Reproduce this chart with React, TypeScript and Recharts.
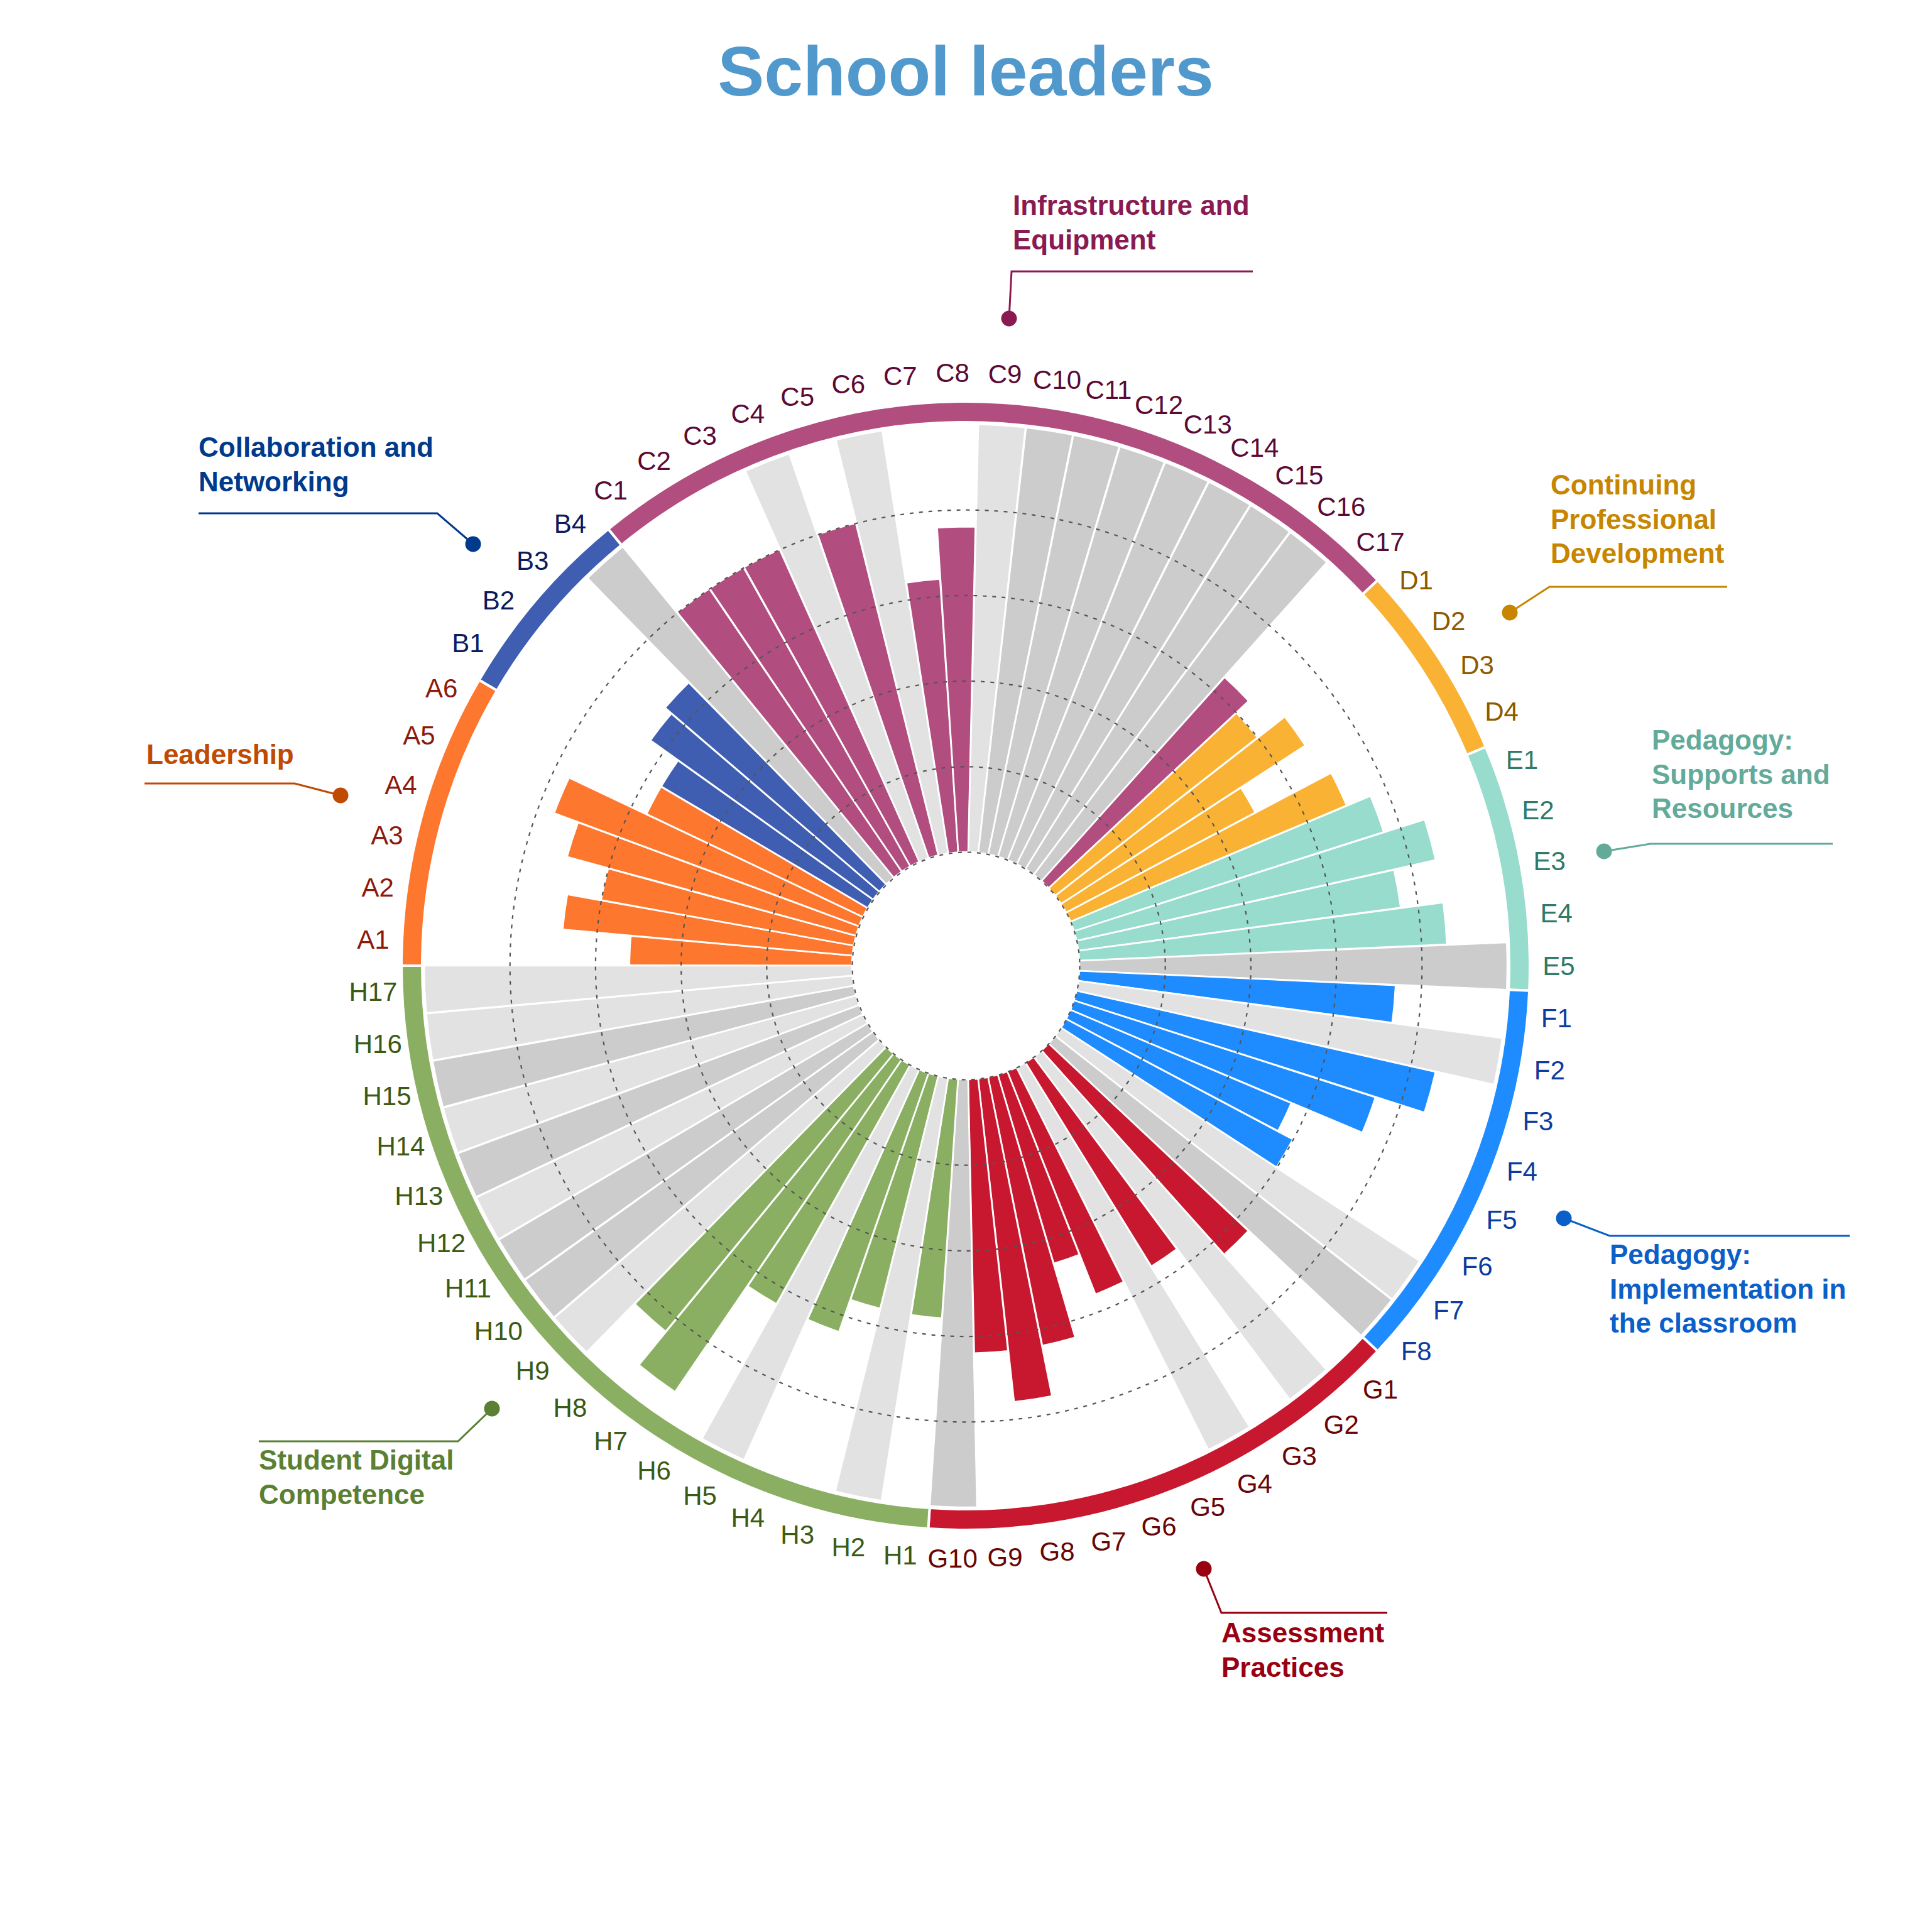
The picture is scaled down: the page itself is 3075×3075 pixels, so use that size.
import React from "react";
import {
  Cell,
  Pie,
  PieChart,
  PolarAngleAxis,
  PolarGrid,
  PolarRadiusAxis,
  RadialBar,
  RadialBarChart,
} from "recharts";

const SIZE = 3075;
const CX = 1537;
const CY = 1537;
const INNER = 181;
const OUTER = 862;
const LABEL_R = 944;
const FONT = "'Liberation Sans', Arial, sans-serif";

// school leaders, % per item (null = item not covered)
const leadership = [52, 68, 60, 70, 76, 56];
const collaboration = [56, 64, 66, null];
const infrastructure = [80, 80, 80, null, 80, null, 64, 76, null, null, null, null, null, null, null, null, 64];
const cpd = [60, 68, 50, 70];
const supports = [76, 86, 76, 86, null];
const implementation = [74, null, 86, 74, 56, 60, null, null];
const assessment = [64, null, 56, null, 56, 46, 64, 76, 64, null];
const studentDigital = [56, null, 56, 64, null, 64, 94, 84, null, null, null, null, null, null, null, null, null];

// items that are not covered, by kind
const lightGaps = ["C4", "C6", "C9", "F2", "F7", "G2", "G4", "H2", "H5", "H9", "H12", "H14", "H16", "H17"];
const darkGaps = ["B4", "C10", "C11", "C12", "C13", "C14", "C15", "C16", "E5", "F8", "G10", "H10", "H11", "H13", "H15"];

const groupKeys = ["A", "B", "C", "D", "E", "F", "G", "H"];
const groupValues = [leadership, collaboration, infrastructure, cpd, supports, implementation, assessment, studentDigital];

const barColors: Record<string, string> = {
  A: "#fd772e",
  B: "#405eb1",
  C: "#b24d7f",
  D: "#f9b233",
  E: "#97dccd",
  F: "#1e8bff",
  G: "#c8182f",
  H: "#8aaf62",
};
const tickColors: Record<string, string> = {
  A: "#8c1a0b",
  B: "#0c1b5a",
  C: "#5b0a33",
  D: "#8e5a00",
  E: "#2f7a69",
  F: "#0b3c9e",
  G: "#6a0505",
  H: "#3b5a14",
};

const rows = groupKeys.flatMap((key, gi) =>
  groupValues[gi].map((v, i) => {
    const name = key + (i + 1);
    return { name, group: key, value: v ?? 100 };
  })
);

const ring = groupKeys.map((key, gi) => ({ key, count: groupValues[gi].length }));

// recharts draws each radial bar one slot past its tick, so turn the chart back
const slot = 360 / rows.length;

const gridTicks = [0, 20, 40, 60, 80];
const gridRadii = gridTicks.map((t) => INNER + ((OUTER - INNER) * t) / 100);

function barFill(name: string, group: string) {
  if (lightGaps.includes(name)) return "#e2e2e2";
  if (darkGaps.includes(name)) return "#cccccc";
  return barColors[group];
}

function AngleTick(props: any) {
  const { payload, index } = props;
  const row = rows[index];
  // tick sits on the slot edge: move it to the middle of the bar
  const a = ((payload.coordinate + slot / 2) * Math.PI) / 180;
  const x = CX + LABEL_R * Math.cos(a);
  const y = CY - LABEL_R * Math.sin(a);
  return (
    <text
      x={x}
      y={y}
      textAnchor="middle"
      dominantBaseline="central"
      fill={row ? tickColors[row.group] : "#333"}
      fontSize={42}
      fontFamily={FONT}
    >
      {payload.value}
    </text>
  );
}

type Note = {
  lines: string[];
  color: string;
  tx: number;
  baseline: number;
  path: string;
  dot: [number, number];
};

const notes: Note[] = [
  {
    lines: ["Infrastructure and", "Equipment"],
    color: "#8a1a52",
    tx: 1612,
    baseline: 342,
    path: "M1606,507 L1610,432 L1994,432",
    dot: [1606, 507],
  },
  {
    lines: ["Collaboration and", "Networking"],
    color: "#003a8c",
    tx: 316,
    baseline: 727,
    path: "M316,817 L696,817 L753,866",
    dot: [753, 866],
  },
  {
    lines: ["Leadership"],
    color: "#c04a00",
    tx: 233,
    baseline: 1216,
    path: "M230,1247 L469,1247 L542,1266",
    dot: [542, 1266],
  },
  {
    lines: ["Continuing", "Professional", "Development"],
    color: "#c78500",
    tx: 2468,
    baseline: 787,
    path: "M2749,934 L2466,934 L2403,975",
    dot: [2403, 975],
  },
  {
    lines: ["Pedagogy:", "Supports and", "Resources"],
    color: "#62aa9a",
    tx: 2629,
    baseline: 1193,
    path: "M2917,1343 L2627,1343 L2553,1355",
    dot: [2553, 1355],
  },
  {
    lines: ["Pedagogy:", "Implementation in", "the classroom"],
    color: "#0b5fc8",
    tx: 2562,
    baseline: 2012,
    path: "M2489,1939 L2562,1967 L2944,1967",
    dot: [2489, 1939],
  },
  {
    lines: ["Student Digital", "Competence"],
    color: "#5b8034",
    tx: 412,
    baseline: 2339,
    path: "M412,2294 L729,2294 L783,2242",
    dot: [783, 2242],
  },
  {
    lines: ["Assessment", "Practices"],
    color: "#990011",
    tx: 1944,
    baseline: 2614,
    path: "M1916,2497 L1944,2567 L2208,2567",
    dot: [1916, 2497],
  },
];

export default function App() {
  return (
    <div style={{ position: "absolute", left: 0, top: 0, width: SIZE, height: SIZE, background: "#fff" }}>
      <div style={{ position: "absolute", left: 0, top: 0 }}>
        <RadialBarChart
          width={SIZE}
          height={SIZE}
          cx={CX}
          cy={CY}
          innerRadius={INNER}
          outerRadius={OUTER}
          startAngle={180 - slot}
          endAngle={-180 - slot}
          layout="centric"
          data={rows}
          barCategoryGap={0}
          margin={{ top: 0, right: 0, bottom: 0, left: 0 }}
        >
          <PolarAngleAxis type="category" dataKey="name" tick={<AngleTick />} tickLine={false} axisLine={false} />
          <PolarRadiusAxis type="number" domain={[0, 100]} tick={false} axisLine={false} />
          <RadialBar dataKey="value" isAnimationActive={false} stroke="#ffffff" strokeWidth={2.5}>
            {rows.map((r) => (
              <Cell key={r.name} fill={barFill(r.name, r.group)} />
            ))}
          </RadialBar>
        </RadialBarChart>
      </div>
      <div style={{ position: "absolute", left: 0, top: 0, pointerEvents: "none" }}>
        <PieChart width={SIZE} height={SIZE} margin={{ top: 0, right: 0, bottom: 0, left: 0 }}>
          <PolarGrid
            cx={CX}
            cy={CY}
            gridType="circle"
            radialLines={false}
            polarRadius={gridRadii}
            polarAngles={[]}
            stroke="#555555"
            strokeWidth={2.2}
            strokeDasharray="6 9"
          />
          <Pie
            data={ring}
            dataKey="count"
            nameKey="key"
            cx={CX}
            cy={CY}
            innerRadius={865}
            outerRadius={898}
            startAngle={180}
            endAngle={-180}
            stroke="#ffffff"
            strokeWidth={4}
            isAnimationActive={false}
          >
            {ring.map((g) => (
              <Cell key={g.key} fill={barColors[g.key]} />
            ))}
          </Pie>
        </PieChart>
      </div>
      <svg
        width={SIZE}
        height={SIZE}
        style={{ position: "absolute", left: 0, top: 0, pointerEvents: "none" }}
      >
        <text x={CX} y={152} textAnchor="middle" fontSize={111} fontWeight="bold" fontFamily={FONT} fill="#5199cc">
          School leaders
        </text>
        {notes.map((n) => (
          <g key={n.lines.join(" ")}>
            <path d={n.path} fill="none" stroke={n.color} strokeWidth={3} />
            <circle cx={n.dot[0]} cy={n.dot[1]} r={12.5} fill={n.color} />
            {n.lines.map((line, i) => (
              <text
                key={line}
                x={n.tx}
                y={n.baseline + i * 54.5}
                fontSize={44}
                fontWeight="bold"
                fontFamily={FONT}
                fill={n.color}
              >
                {line}
              </text>
            ))}
          </g>
        ))}
      </svg>
    </div>
  );
}
